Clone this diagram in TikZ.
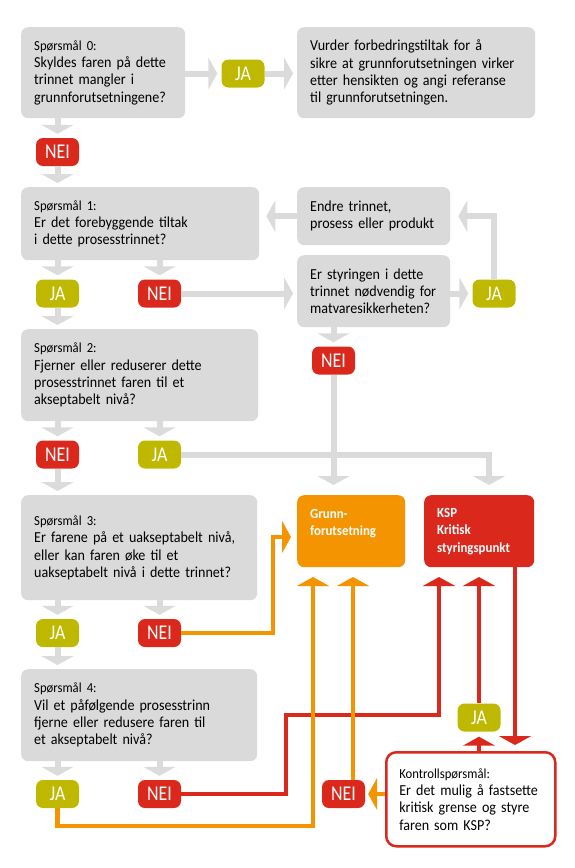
\documentclass[tikz,border=0pt]{standalone}
\usepackage{fontspec}
\setmainfont{Carlito}[FakeStretch=0.92]
\newfontfamily\badgefont[FakeStretch=0.85]{Carlito}
\usetikzlibrary{arrows.meta}

\definecolor{boxgray}{HTML}{DADADA}
\definecolor{arrgray}{HTML}{DBDBDB}
\definecolor{jaolive}{HTML}{BEB900}
\definecolor{neired}{HTML}{DA291C}
\definecolor{gforange}{HTML}{F39400}

\newcommand{\qhead}[1]{{\fontsize{13.8}{17}\selectfont #1}}

\begin{document}
\begin{tikzpicture}[x=1pt, y=-1pt,
                    box/.style={fill=boxgray, rounded corners=7pt, anchor=north west, align=left,
                            inner xsep=13pt, inner ysep=0pt, font=\fontsize{15.3}{17.3}\selectfont,
                            execute at begin node={\hyphenpenalty=10000}},
                    ja/.style={fill=jaolive, text=white, rounded corners=7pt, minimum width=43pt,
                            minimum height=28pt, inner sep=0pt, font=\badgefont\fontsize{21}{21}\selectfont},
                    nei/.style={ja, fill=neired},
                    result/.style={box, text=white, font=\bfseries\fontsize{14}{17.5}\selectfont},
                    garr/.style={draw=arrgray, line width=6pt, -{Triangle[width=32pt,length=9pt]}, shorten >=4pt},
                    oarr/.style={draw=gforange, line width=4.5pt, -{Triangle[width=32pt,length=9pt]}},
                    rarr/.style={oarr, draw=neired}]
                \useasboundingbox (0,0) rectangle (574,868);
                % question boxes
                \node[box, text width=138pt, minimum height=91pt] (q0) at (21,27)
                    {\qhead{Spørsmål 0:}\\Skyldes faren på dette\\trinnet mangler i\\grunnforutsetningene?};
                \node[box, text width=212pt, minimum height=91pt] (r0) at (297,27)
                    {Vurder forbedringstiltak for å\\sikre at grunnforutsetningen virker\\etter hensikten og angi referanse\\til grunnforutsetningen.};
                \node[box, text width=212pt, minimum height=73pt] (q1) at (21,187)
                    {\qhead{Spørsmål 1:}\\Er det forebyggende tiltak\\i dette prosesstrinnet?};
                \node[box, text width=127pt, minimum height=58pt] (e) at (297,187)
                    {Endre trinnet,\\prosess eller produkt};
                \node[box, text width=127pt, minimum height=72pt] (s) at (297,255)
                    {Er styringen i dette\\trinnet nødvendig for\\matvaresikkerheten?};
                \node[box, text width=211pt, minimum height=92pt] (q2) at (21,329)
                    {\qhead{Spørsmål 2:}\\Fjerner eller reduserer dette\\prosesstrinnet faren til et\\akseptabelt nivå?};
                \node[box, text width=210pt, minimum height=105pt] (q3) at (21,495)
                    {\qhead{Spørsmål 3:}\\Er farene på et uakseptabelt nivå,\\eller kan faren øke til et\\uakseptabelt nivå i dette trinnet?};
                \node[box, text width=210pt, minimum height=92pt] (q4) at (21,669)
                    {\qhead{Spørsmål 4:}\\Vil et påfølgende prosesstrinn\\fjerne eller redusere faren til\\et akseptabelt nivå?};
                % results
                \node[result, fill=gforange, text width=82pt, minimum height=72pt] (g) at (297,495)
                    {Grunn-\\forutsetning\\\mbox{}};
                \node[result, fill=neired, text width=84pt, minimum height=72pt] (k) at (424,495)
                    {KSP\\Kritisk\\styringspunkt};
                \node[box, fill=white, draw=neired, line width=2.5pt, rounded corners=10pt,
                      text width=143pt, minimum height=94pt] (c) at (385,751)
                    {\qhead{Kontrollspørsmål:}\\Er det mulig å fastsette\\kritisk grense og styre\\faren som KSP?};
                % answers
                \node[ja] (ja0) at (243,73.5) {JA};
                \node[nei] (nei0) at (57.5,152) {NEI};
                \node[ja] (ja1) at (57.5,293.5) {JA};
                \node[nei] (nei1) at (159.5,293.5) {NEI};
                \node[ja] (jar) at (494,293.5) {JA};
                \node[nei] (nei2) at (333.5,360.5) {NEI};
                \node[nei] (nei3) at (57.5,454.5) {NEI};
                \node[ja] (ja3) at (159.5,454.5) {JA};
                \node[ja] (ja4) at (57.5,633) {JA};
                \node[nei] (nei4) at (159.5,633) {NEI};
                \node[ja] (ja5) at (57.5,794) {JA};
                \node[nei] (nei5) at (159.5,794) {NEI};
                \node[ja] (ja6) at (479,717.5) {JA};
                \node[nei] (nei6) at (343.5,794) {NEI};
                % bends and inlets
                \coordinate (gin1) at (313,577);
                \coordinate (gin2) at (353,577);
                \coordinate (kin1) at (439,577);
                \coordinate (kin2) at (479,577);
                \coordinate (kin) at (489,495);
                \coordinate (kout) at (515,567);
                \coordinate (nbend) at (273,537);
                \coordinate (rbend) at (286,715);
                \coordinate (jbot) at (57.5,826);
                % gray flow
                \draw[garr] (q0.east |- ja0) -- (ja0);
                \draw[garr] (ja0) -- (ja0 -| r0.west);
                \draw[garr] (q0.south -| nei0) -- (nei0);
                \draw[garr] (nei0) -- (nei0 |- q1.north);
                \draw[garr] (q1.south -| ja1) -- (ja1);
                \draw[garr] (q1.south -| nei1) -- (nei1);
                \draw[garr] (ja1) -- (ja1 |- q2.north);
                \draw[garr] (nei1) -- (nei1 -| s.west);
                \draw[garr] (s.east |- jar) -- (jar);
                \draw[garr, shorten >=8pt] (jar) |- (e.east);
                \draw[garr, shorten >=7pt] (e) -- (e -| q1.east);
                \draw[garr] (s.south -| nei2) -- (nei2);
                \draw[garr, shorten >=10pt] (nei2) -- (nei2 |- g.north);
                \draw[garr] (q2.south -| nei3) -- (nei3);
                \draw[garr] (q2.south -| ja3) -- (ja3);
                \draw[garr] (nei3) -- (nei3 |- q3.north);
                \draw[garr, shorten >=10pt] (ja3) -| (kin);
                \draw[garr] (q3.south -| ja4) -- (ja4);
                \draw[garr] (q3.south -| nei4) -- (nei4);
                \draw[garr] (ja4) -- (ja4 |- q4.north);
                \draw[garr] (q4.south -| ja5) -- (ja5);
                \draw[garr] (q4.south -| nei5) -- (nei5);
                % red flow
                \draw[rarr] (nei5.east) -| (rbend) -| (kin1);
                \draw[rarr] (ja6) -- (kin2);
                \draw[rarr, shorten >=5pt] (c.north -| ja6) -- (ja6);
                \draw[rarr, shorten >=6pt] (kout) -- (kout |- c.north);
                % orange flow
                \draw[oarr, shorten >=6pt] (nei4.east) -| (nbend) -- (nbend -| g.west);
                \draw[oarr] (ja5.south) -- (jbot) -| (gin1);
                \draw[oarr] (nei6.north -| gin2) -- (gin2);
                \draw[oarr, shorten >=3pt] (c.west |- nei6) -- (nei6);
            \end{tikzpicture}
\end{document}
